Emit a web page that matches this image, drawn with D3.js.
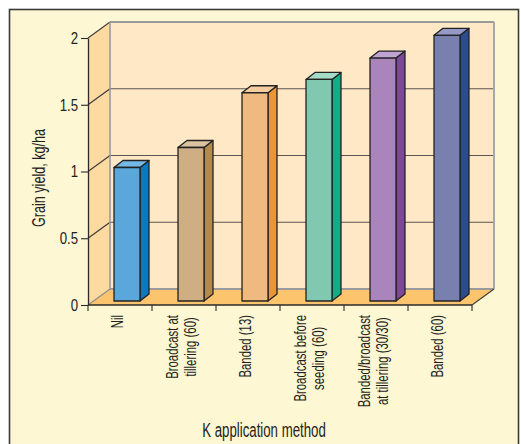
<!DOCTYPE html>
<html>
<head>
<meta charset="utf-8">
<script src="https://cdn.jsdelivr.net/npm/d3@7/dist/d3.min.js"></script>
<style>
  html, body { margin: 0; padding: 0; background: #ffffff; }
  svg { display: block; }
  text { font-family: "Liberation Sans", Arial, sans-serif; fill: #231f20; }
</style>
</head>
<body>
<svg id="chart" width="521" height="444"></svg>
<script>
// Grain yield by potassium application method
const categories = [
  "Nil",
  "Broadcast at\ntillering (60)",
  "Banded (13)",
  "Broadcast before\nseeding (60)",
  "Banded/broadcast\nat tillering (30/30)",
  "Banded (60)"
];
const yields = [1.0, 1.15, 1.56, 1.66, 1.82, 1.99];
const yTicks = [0, 0.5, 1, 1.5, 2];
const yTickLabels = ["0", "0.5", "1", "1.5", "2"];
const frontColors = ["#5aa8db", "#cfae84", "#f0b97f", "#80c9b0", "#a985bb", "#7880af"];
const sideColors  = ["#0a79bf", "#b4894e", "#e8963a", "#0fae86", "#7c4898", "#2b4d8d"];
const topColors   = ["#74b8e6", "#dcc39f", "#f5cba0", "#a6dcc7", "#bfa3d3", "#9699c5"];
const yTitle = "Grain yield, kg/ha";
const xTitle = "K application method";

const svg = d3.select("#chart");

// plot frame
const plotLeft = 88, plotRight = 472, plotBottom = 305, plotTop = 38;
const wall = { dx: 22, dy: -16 };   // depth of the back wall
const barShift = { dx: 7, dy: -4 }; // bars sit slightly behind the front plane
const barDepth = { dx: 9, dy: -7 };

const x = d3.scaleBand().domain(categories).range([plotLeft, plotRight])
  .paddingInner(0.594).paddingOuter(0.297);
const y = d3.scaleLinear().domain([0, 2]).range([plotBottom, plotTop]);

// outer panel
svg.append("rect")
  .attr("x", 9.5).attr("y", 9.5).attr("width", 509).attr("height", 460)
  .attr("fill", "#fdf7d3").attr("stroke", "#3b3b3b").attr("stroke-width", 1.6);

const pts = a => a.map(p => p.join(",")).join(" ");

// left side wall
svg.append("polygon")
  .attr("points", pts([[plotLeft, plotBottom], [plotLeft, plotTop],
    [plotLeft + wall.dx, plotTop + wall.dy], [plotLeft + wall.dx, plotBottom + wall.dy]]))
  .attr("fill", "#fdda9f");

// back wall
svg.append("rect")
  .attr("x", plotLeft + wall.dx).attr("y", plotTop + wall.dy)
  .attr("width", plotRight - plotLeft).attr("height", plotBottom - plotTop)
  .attr("fill", "#fee8c5");

// floor
svg.append("polygon")
  .attr("points", pts([[plotLeft, plotBottom], [plotRight, plotBottom],
    [plotRight + wall.dx, plotBottom + wall.dy], [plotLeft + wall.dx, plotBottom + wall.dy]]))
  .attr("fill", "#fdc46e");

// gridlines on the back wall and the side wall
yTicks.forEach(t => {
  const yy = y(t);
  const edge = (t === 0 || t === 2);
  svg.append("line")
    .attr("x1", plotLeft + wall.dx).attr("x2", plotRight + wall.dx)
    .attr("y1", yy + wall.dy).attr("y2", yy + wall.dy)
    .attr("stroke", edge ? "#9a9a9a" : "#5a5550").attr("stroke-width", edge ? 1.8 : 1.2);
  svg.append("line")
    .attr("x1", plotLeft).attr("y1", yy)
    .attr("x2", plotLeft + wall.dx).attr("y2", yy + wall.dy)
    .attr("stroke", t === 0 ? "#8a8a8a" : "#3a3a3a").attr("stroke-width", 1.1);
});

// back wall side edges
svg.append("line")
  .attr("x1", plotLeft + wall.dx).attr("x2", plotLeft + wall.dx)
  .attr("y1", plotTop + wall.dy).attr("y2", plotBottom + wall.dy)
  .attr("stroke", "#9a9a9a").attr("stroke-width", 1.6);
svg.append("line")
  .attr("x1", plotRight + wall.dx).attr("x2", plotRight + wall.dx)
  .attr("y1", plotTop + wall.dy).attr("y2", plotBottom + wall.dy)
  .attr("stroke", "#a8a8a8").attr("stroke-width", 2);

// floor right edge
svg.append("line")
  .attr("x1", plotRight).attr("y1", plotBottom)
  .attr("x2", plotRight + wall.dx).attr("y2", plotBottom + wall.dy)
  .attr("stroke", "#3a3a3a").attr("stroke-width", 1.1);

// y axis; condensed lettering is squeezed along the reading direction
const tickSize = 7, tickPad = 3, tickNarrow = 0.8;
const yAxis = svg.append("g").attr("transform", `translate(${plotLeft},0)`)
  .call(d3.axisLeft(y).tickValues(yTicks).tickFormat((d, i) => yTickLabels[i])
    .tickSizeInner(tickSize).tickSizeOuter(0).tickPadding(tickPad));
yAxis.select(".domain").attr("stroke", "#2a2a2a").attr("stroke-width", 1.3);
yAxis.selectAll(".tick line").attr("stroke", "#2a2a2a").attr("stroke-width", 1.1);
yAxis.attr("font-family", null).attr("font-size", null);
yAxis.selectAll(".tick text")
  .attr("font-size", 16.5).style("fill", "#231f20")
  .attr("x", -(tickSize + tickPad) / tickNarrow)
  .attr("transform", `scale(${tickNarrow},1)`);

// x axis line with ticks at category boundaries
svg.append("line")
  .attr("x1", plotLeft).attr("x2", plotRight).attr("y1", plotBottom).attr("y2", plotBottom)
  .attr("stroke", "#2a2a2a").attr("stroke-width", 1.3);
const step = x.step();
d3.range(categories.length + 1).forEach(i => {
  const xx = plotLeft + i * step;
  svg.append("line")
    .attr("x1", xx).attr("x2", xx).attr("y1", plotBottom).attr("y2", plotBottom + 6)
    .attr("stroke", "#2a2a2a").attr("stroke-width", 1.1);
});

// bars
const bars = svg.append("g").attr("stroke", "#222").attr("stroke-width", 1.3).attr("stroke-linejoin", "round");
categories.forEach((c, i) => {
  const x0 = x(c) + barShift.dx, x1 = x0 + x.bandwidth();
  const y0 = y(0) + barShift.dy, y1 = y(yields[i]) + barShift.dy;
  // side face
  bars.append("polygon")
    .attr("points", pts([[x1, y0], [x1, y1], [x1 + barDepth.dx, y1 + barDepth.dy], [x1 + barDepth.dx, y0 + barDepth.dy]]))
    .attr("fill", sideColors[i]);
  // top face
  bars.append("polygon")
    .attr("points", pts([[x0, y1], [x1, y1], [x1 + barDepth.dx, y1 + barDepth.dy], [x0 + barDepth.dx, y1 + barDepth.dy]]))
    .attr("fill", topColors[i]);
  // front face
  bars.append("rect")
    .attr("x", x0).attr("y", y1).attr("width", x1 - x0).attr("height", y0 - y1)
    .attr("fill", frontColors[i]);
});

// category labels, rotated, top-aligned under the axis
const lineGap = 18.5, labelNarrow = 0.69;
categories.forEach(c => {
  const lines = c.split("\n");
  const cx = x(c) + x.bandwidth() / 2 - 3;
  const g = svg.append("g").attr("transform", `translate(${cx},315) rotate(-90) scale(${labelNarrow},1)`);
  const texts = lines.map((ln, j) => g.append("text")
    .attr("y", (j - (lines.length - 1) / 2) * lineGap)
    .attr("dominant-baseline", "central")
    .attr("text-anchor", "middle")
    .attr("font-size", 16.5)
    .text(ln));
  const w = d3.max(texts, t => t.node().getComputedTextLength());
  texts.forEach(t => t.attr("x", -w / 2));
});

// axis titles
svg.append("text")
  .attr("transform", "translate(39,178) rotate(-90) scale(0.72,1)")
  .attr("text-anchor", "middle").attr("dominant-baseline", "central")
  .attr("font-size", 17.5).text(yTitle);
svg.append("text")
  .attr("transform", "translate(264,437) scale(0.68,1)")
  .attr("text-anchor", "middle")
  .attr("font-size", 19.5).text(xTitle);
</script>
</body>
</html>
